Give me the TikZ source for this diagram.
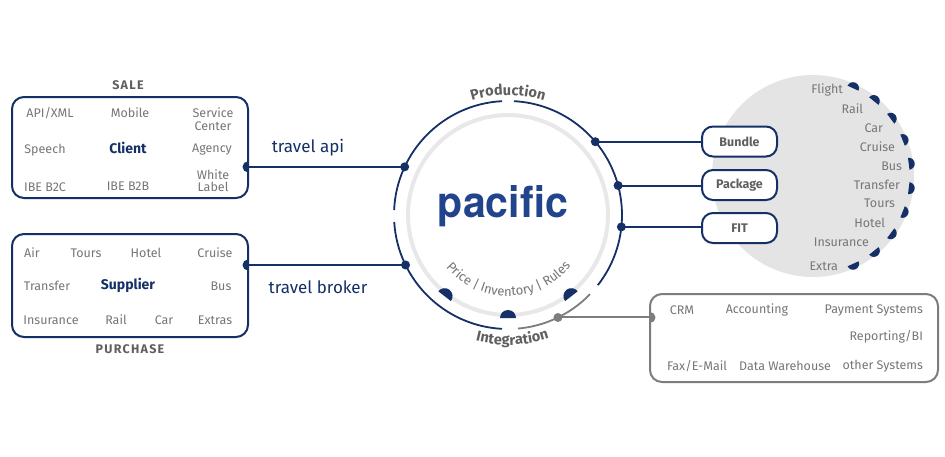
\documentclass[tikz,border=0pt]{standalone}
\usepackage{fontspec}
\setmainfont{Fira Sans}
\newfontfamily\herosfont{TeX Gyre Heros}
\usetikzlibrary{decorations.text}
\definecolor{navy}{RGB}{20,48,102}
\definecolor{pblue}{RGB}{34,68,140}
\definecolor{txtgrey}{RGB}{118,118,118}
\definecolor{labgrey}{RGB}{95,95,95}
\definecolor{ringgrey}{RGB}{232,232,232}
\definecolor{bgcircle}{RGB}{228,228,228}
\definecolor{boxgrey}{RGB}{125,125,125}
\newcommand\itemfont{\fontsize{12.5}{14}\selectfont}
\begin{document}
\begin{tikzpicture}[x=1pt,y=1pt,
  item/.style={font=\itemfont, text=txtgrey, inner sep=0pt, outer sep=0pt},
  multi/.style={item, align=center, font=\fontsize{12.5}{12.5}\selectfont},
  keyword/.style={font=\bfseries\fontsize{14}{16}\selectfont, text=navy, inner sep=0pt},
  boxlabel/.style={font=\bfseries\fontsize{12.5}{14}\selectfont\addfontfeatures{LetterSpace=10}, text=labgrey, inner sep=0pt},
  linklabel/.style={font=\fontsize{17}{19}\selectfont, text=navy, inner sep=0pt},
  bigbox/.style={draw=navy, line width=2pt, rounded corners=12pt, inner sep=0pt, outer sep=0pt},
  pill/.style={draw=navy, line width=2pt, fill=white, rounded corners=11pt, minimum width=75pt, minimum height=30pt, inner sep=0pt, outer sep=0pt, font=\bfseries\fontsize{12.5}{14}\selectfont, text=labgrey},
  conn/.style={navy, line width=2pt},
  ringarc/.style={navy, line width=1.8pt},
  dot/.style={navy},
]
\useasboundingbox (0,0) rectangle (945,-456);
\fill[white] (0,0) rectangle (945,-456);

% ---------- right grey circle ----------
\fill[bgcircle] (813,-176) circle[radius=101];
\foreach \i in {0,...,9}{
  \pgfmathsetmacro\a{65.5-14.55*\i}
  \fill[navy] (813,-176) ++(\a:96.5) ++(\a-90:6) arc[start angle=\a-90, end angle=\a+90, radius=6] -- cycle;
}

% ---------- central ring ----------
\coordinate (C) at (508,-215);
\node[circle, minimum size=228pt, inner sep=0pt, outer sep=0pt] (ring) at (C) {};
\draw[ringgrey, line width=4pt] (C) circle[radius=100];
\foreach \a in {232,270,308}{
  \fill[navy] (C) ++(\a:103) ++(\a+90:8) arc[start angle=\a+90, end angle=\a+270, radius=8] -- cycle;
}
\draw[ringarc] (C) ++(93:114) arc[start angle=93, end angle=177.5, radius=114];
\draw[ringarc] (C) ++(183.5:114) arc[start angle=183.5, end angle=267, radius=114];
\draw[boxgrey, line width=1.8pt] (C) ++(275:114) arc[start angle=275, end angle=316, radius=114];
\draw[ringarc] (C) ++(322:114) arc[start angle=322, end angle=447, radius=114];

\node[anchor=base, text=pblue, inner sep=0pt] (pacific) at (503,-217) {\resizebox{130pt}{32pt}{\herosfont\bfseries pacific}};

\path[decorate, decoration={text along path, text format delimiters={[}{]},
  text={[\bfseries\fontsize{14.5}{16}\selectfont]Production}, text color=labgrey, text align=center}]
  (C) ++(125:120) arc[start angle=125, end angle=55, radius=120];
\path[decorate, decoration={text along path, text format delimiters={[}{]},
  text={[\bfseries\fontsize{14.5}{16}\selectfont]Integration}, text color=labgrey, text align=center}]
  (C) ++(232:130) arc[start angle=232, end angle=312, radius=130];
\path[decorate, decoration={text along path, text format delimiters={[}{]},
  text={[\fontsize{13}{15}\selectfont]Price | Inventory | Rules}, text color=txtgrey, text align=center}]
  (C) ++(195:81) arc[start angle=195, end angle=346, radius=81];

% ---------- SALE box ----------
\node[bigbox, minimum width=236pt, minimum height=101pt] (sale) at (130,-147.5) {};
\node[boxlabel] (salelab) at (128,-85) {SALE};
\node[item] (s1) at (50,-113) {API/XML};
\node[item] (s2) at (130,-113) {Mobile};
\node[multi] (s3) at (213,-119) {Service\\Center};
\node[item] (s4) at (45,-150) {Speech};
\node[keyword] (s5) at (128,-148) {Client};
\node[item] (s6) at (212,-150) {Agency};
\node[item] (s7) at (45,-187) {IBE B2C};
\node[item] (s8) at (128,-186) {IBE B2B};
\node[multi] (s9) at (213,-180.5) {White\\Label};

% ---------- PURCHASE box ----------
\node[bigbox, minimum width=236pt, minimum height=103pt] (purchase) at (130,-285.5) {};
\node[boxlabel] (purlab) at (130,-349) {PURCHASE};
\node[item] (p1) at (32,-253) {Air};
\node[item] (p2) at (86,-253) {Tours};
\node[item] (p3) at (146,-253) {Hotel};
\node[item] (p4) at (215,-253) {Cruise};
\node[item] (p5) at (47,-286) {Transfer};
\node[keyword] (p6) at (128,-285) {Supplier};
\node[item] (p7) at (221,-286) {Bus};
\node[item] (p8) at (51,-320) {Insurance};
\node[item] (p9) at (116,-320) {Rail};
\node[item] (p10) at (164,-320) {Car};
\node[item] (p11) at (215,-320) {Extras};

% ---------- left connectors ----------
\draw[conn] (sale.east |- ring.155) -- (ring.155);
\draw[conn] (purchase.east |- ring.206) -- (ring.206);
\fill[navy] (sale.east |- ring.155) ++(0,5.5) arc[start angle=90, end angle=270, radius=5.5] -- cycle;
\fill[navy] (purchase.east |- ring.206) ++(0,5.5) arc[start angle=90, end angle=270, radius=5.5] -- cycle;
\fill[dot] (ring.155) circle[radius=4.5];
\fill[dot] (ring.206) circle[radius=4.5];
\node[linklabel] (api) at (308,-148) {travel api};
\node[linklabel] (broker) at (318,-287) {travel broker};

% ---------- right pills ----------
\node[pill] (bundle) at (739.5,-141.5) {Bundle};
\node[pill] (package) at (739.5,-185) {Package};
\node[pill] (fit) at (739.5,-228) {FIT};
\draw[conn] (ring.40.1) -- (bundle.west |- ring.40.1);
\draw[conn] (ring.15.25) -- (package.west |- ring.15.25);
\draw[conn] (ring.-6.55) -- (fit.west |- ring.-6.55);
\fill[dot] (ring.40.1) circle[radius=4.5];
\fill[dot] (ring.15.25) circle[radius=4.5];
\fill[dot] (ring.-6.55) circle[radius=4.5];

% ---------- right list ----------
\node[item, anchor=east] (r1) at (843,-90) {Flight};
\node[item, anchor=east] (r2) at (863,-109) {Rail};
\node[item, anchor=east] (r3) at (883,-128) {Car};
\node[item, anchor=east] (r4) at (895,-147) {Cruise};
\node[item, anchor=east] (r5) at (902,-166) {Bus};
\node[item, anchor=east] (r6) at (900,-185) {Transfer};
\node[item, anchor=east] (r7) at (895,-203) {Tours};
\node[item, anchor=east] (r8) at (885,-223) {Hotel};
\node[item, anchor=east] (r9) at (869,-242) {Insurance};
\node[item, anchor=east] (r10) at (838,-266) {Extra};

% ---------- integration box ----------
\node[draw=boxgrey, line width=2pt, rounded corners=12pt, minimum width=288pt, minimum height=88pt, inner sep=0pt, outer sep=0pt] (integ) at (794,-338) {};
\draw[boxgrey, line width=2pt] (ring.296) -- (integ.west |- ring.296);
\fill[boxgrey] (integ.west |- ring.296) ++(0,5.5) arc[start angle=90, end angle=-90, radius=5.5] -- cycle;
\fill[boxgrey] (ring.296) circle[radius=4.5];
\node[item] (i1) at (682,-310) {CRM};
\node[item] (i2) at (757,-310) {Accounting};
\node[item, anchor=east] (i3) at (923,-310) {Payment Systems};
\node[item, anchor=east] (i4) at (923,-337) {Reporting/BI};
\node[item] (i5) at (697,-366) {Fax/E-Mail};
\node[item] (i6) at (785,-366) {Data Warehouse};
\node[item, anchor=east] (i7) at (923,-366) {other Systems};
\end{tikzpicture}
\end{document}
